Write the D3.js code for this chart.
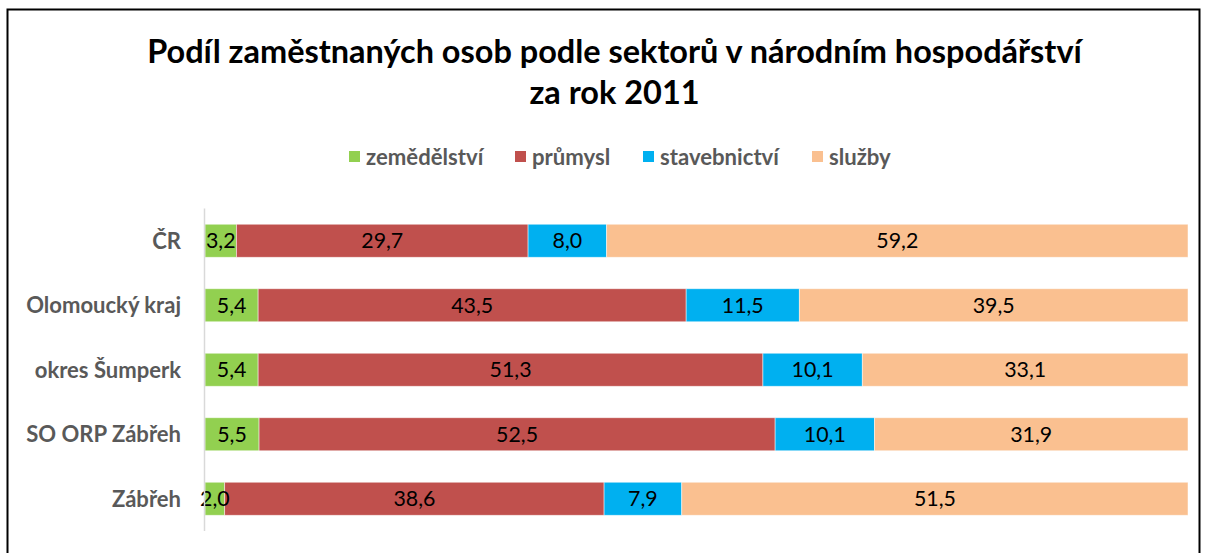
<!DOCTYPE html>
<html><head><meta charset="utf-8">
<script src="https://cdn.jsdelivr.net/npm/d3@7"></script>
<style>
html,body{margin:0;padding:0;background:#fff;}
svg{display:block;}
</style>
</head><body>
<svg id="chart" width="1205" height="553"></svg>
<script>
const categories = ["ČR", "Olomoucký kraj", "okres Šumperk", "SO ORP Zábřeh", "Zábřeh"];
const seriesNames = ["zemědělství", "průmysl", "stavebnictví", "služby"];
const zemedelstvi = [3.2, 5.4, 5.4, 5.5, 2.0];
const prumysl = [29.7, 43.5, 51.3, 52.5, 38.6];
const stavebnictvi = [8.0, 11.5, 10.1, 10.1, 7.9];
const sluzby = [59.2, 39.5, 33.1, 31.9, 51.5];
const colors = ["#92D050", "#C0504D", "#00B0F0", "#FAC090"];
const titleLines = ["Podíl zaměstnaných osob podle sektorů v národním hospodářství", "za rok 2011"];

const seriesValues = [zemedelstvi, prumysl, stavebnictvi, sluzby];
const rows = categories.map((c, i) => {
  const r = {cat: c};
  seriesNames.forEach((s, j) => r[s] = seriesValues[j][i]);
  return r;
});

const svg = d3.select("#chart");
const FONT = "Lato, 'Open Sans', sans-serif";

// frame
svg.append("rect").attr("x", 7.5).attr("y", 9.5).attr("width", 1192).attr("height", 560)
  .attr("fill", "#fff").attr("stroke", "#000").attr("stroke-width", 2);

// helper to fit font size to a target width
function fitSize(text, weight, target, base) {
  const t = svg.append("text").attr("font-family", FONT).attr("font-weight", weight)
    .attr("font-size", base).text(text);
  const w = t.node().getComputedTextLength();
  t.remove();
  return base * target / w;
}

const titleSize = fitSize(titleLines[0], "bold", 935, 28);
svg.append("text").attr("x", 614.5).attr("y", 63).attr("text-anchor", "middle")
  .attr("font-family", FONT).attr("font-weight", "bold").attr("font-size", titleSize)
  .attr("fill", "#000").text(titleLines[0]);
svg.append("text").attr("x", 614.5).attr("y", 104).attr("text-anchor", "middle")
  .attr("font-family", FONT).attr("font-weight", "bold").attr("font-size", titleSize)
  .attr("fill", "#000").text(titleLines[1]);

// scales
const x = d3.scaleLinear().domain([0, 1]).range([205, 1188]);
const y = d3.scaleBand().domain(categories).range([208.5, 531]).paddingInner(0.488).paddingOuter(0.244);

const stack = d3.stack().keys(seriesNames).offset(d3.stackOffsetExpand);
const stacked = stack(rows);

const labelSize = fitSize("59,2", "normal", 42, 20);

const g = svg.append("g");
stacked.forEach((layer, j) => {
  const lg = g.append("g");
  lg.selectAll("rect").data(layer).join("rect")
    .attr("x", d => x(d[0])).attr("y", d => y(d.data.cat))
    .attr("width", d => x(d[1]) - x(d[0])).attr("height", y.bandwidth())
    .attr("fill", colors[j]).attr("stroke", "#fff").attr("stroke-opacity", 0.6).attr("stroke-width", 0.8);
});
stacked.forEach((layer, j) => {
  g.append("g").selectAll("text").data(layer).join("text")
    .attr("x", d => (x(d[0]) + x(d[1])) / 2)
    .attr("y", d => y(d.data.cat) + y.bandwidth() / 2)
    .attr("dy", "0.36em").attr("text-anchor", "middle")
    .attr("font-family", FONT).attr("font-size", labelSize).attr("fill", "#000")
    .text(d => d3.format(".1f")(d.data[layer.key]).replace(".", ","));
});

// vertical axis line
svg.append("line").attr("x1", 204.5).attr("x2", 204.5).attr("y1", y.range()[0]).attr("y2", y.range()[1])
  .attr("stroke", "#D9D9D9").attr("stroke-width", 1.5);

// category labels
const catSize = fitSize("Olomoucký kraj", "bold", 155, 18);
const yAxis = d3.axisLeft(y).tickSize(0).tickPadding(0);
const ag = svg.append("g").attr("transform", "translate(181,0)").call(yAxis);
ag.select(".domain").remove();
ag.selectAll("text").attr("font-family", FONT).attr("font-weight", "bold")
  .attr("font-size", catSize).attr("fill", "#595959").attr("dy", "0.36em");

// legend
const legSize = fitSize("stavebnictví", "bold", 119, 18);
const legX = [349, 515, 643, 812];
const leg = svg.append("g");
seriesNames.forEach((s, j) => {
  leg.append("rect").attr("x", legX[j]).attr("y", 151).attr("width", 11).attr("height", 11).attr("fill", colors[j]);
  leg.append("text").attr("x", legX[j] + 17).attr("y", 157).attr("dy", "0.36em")
    .attr("font-family", FONT).attr("font-weight", "bold").attr("font-size", legSize)
    .attr("fill", "#595959").text(s);
});
</script>
</body></html>
